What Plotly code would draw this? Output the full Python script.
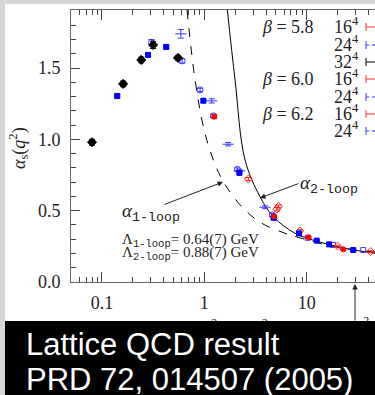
import plotly.graph_objects as go

# ---------------- data ----------------
blk_x = [0.080, 0.161, 0.242, 0.316, 0.553]
blk_y = [0.98, 1.389, 1.557, 1.662, 1.571]
blk_e = [0.02, 0.02, 0.02, 0.025, 0.015]

bsq_x = [0.141, 0.282, 0.424, 0.978, 2.2, 4.75, 8.4, 12.5, 16.5, 28.4]
bsq_y = [1.304, 1.592, 1.648, 1.271, 0.765, 0.45, 0.341, 0.29, 0.264, 0.224]
bsq_e = [0.012, 0.012, 0.01, 0.01, 0.01, 0.01, 0.006, 0.005, 0.005, 0.004]

boc_x = [0.305, 0.607, 0.908, 1.22, 2.1, 4.6]
boc_y = [1.68, 1.55, 1.347, 1.165, 0.79, 0.47]
boc_e = [0.02, 0.015, 0.012, 0.01, 0.01, 0.01]

bln_x = [0.59, 1.18, 1.71, 2.2, 3.91]
bln_y = [1.74, 1.27, 0.966, 0.78, 0.524]
bln_e = [0.03, 0.015, 0.012, 0.01, 0.01]

rfc_x = [1.25, 4.8, 10.4, 22.7]
rfc_y = [1.16, 0.46, 0.313, 0.229]
rfc_e = [0.015, 0.01, 0.006, 0.005]

roc_x = [2.69, 5.09, 5.3, 8.57, 20.0, 42.0]
roc_y = [0.722, 0.51, 0.53, 0.358, 0.252, 0.213]
roc_e = [0.01, 0.012, 0.01, 0.008, 0.006, 0.006]

bos_x = [10.2, 18.0, 35.6]
bos_y = [0.31, 0.26, 0.224]

one_x = [0.678, 0.811, 1.0, 1.224, 1.532, 2.317, 3.63, 6.13, 8.26, 15.0, 25.0, 46.3]
one_y = [1.907, 1.417, 1.06, 0.856, 0.703, 0.528, 0.412, 0.342, 0.313, 0.262, 0.232, 0.21]

two_x = [1.676, 1.993, 2.495, 3.494, 4.71, 7.67, 12.95, 23.6, 46.3]
two_y = [1.907, 1.417, 0.856, 0.598, 0.458, 0.342, 0.283, 0.236, 0.201]

x_ticks = [0.1, 1, 10]
x_ticktext = ["0.1", "1", "10"]
y_ticks = [0.0, 0.5, 1.0, 1.5]

legend_rows = [("<i>β</i> = 5.8", "16<sup>4</sup>", "red"),
               ("", "24<sup>4</sup>", "blue"),
               ("", "32<sup>4</sup>", "black"),
               ("<i>β</i> = 6.0", "16<sup>4</sup>", "red"),
               ("", "24<sup>4</sup>", "blue"),
               ("<i>β</i> = 6.2", "16<sup>4</sup>", "red"),
               ("", "24<sup>4</sup>", "blue")]

# ---------------- layout geometry ----------------
W, H = 375, 395
L, R, T, B = 71, 375, 10, 282
PW, PH = R - L, B - T


def P(px, py):
    return (px - L) / PW, (B - py) / PH


SERIF = "Liberation Serif"
MONO = "Liberation Mono"
TXT = "#222"

fig = go.Figure()

# curves
fig.add_trace(go.Scatter(x=one_x, y=one_y, mode="lines",
                         line=dict(color="black", width=1, dash="dash", shape="spline"),
                         hoverinfo="skip"))
fig.add_trace(go.Scatter(x=two_x, y=two_y, mode="lines",
                         line=dict(color="black", width=1, shape="spline"),
                         hoverinfo="skip"))


def pts(x, y, e, sym, color, size, ecolor=None):
    fig.add_trace(go.Scatter(
        x=x, y=y, mode="markers",
        marker=dict(symbol=sym, color=color, size=size,
                    line=dict(color=color, width=1)),
        error_y=dict(type="data", array=e, visible=e is not None,
                     color=ecolor or color, thickness=1, width=3)))


pts(bln_x, bln_y, bln_e, "line-ew", "#3a3aff", 8)
pts(boc_x, boc_y, boc_e, "circle-open", "#3a3aff", 6)
pts(bos_x, bos_y, None, "square-open", "#3a3aff", 5)
pts(roc_x, roc_y, roc_e, "diamond-open", "#ff2020", 6)
pts(bsq_x, bsq_y, bsq_e, "square", "#0000ff", 5)
pts(rfc_x, rfc_y, rfc_e, "circle", "#ff0000", 5)
pts(blk_x, blk_y, blk_e, "diamond", "black", 7)

axis_common = dict(showline=True, linecolor="#666", linewidth=1,
                   ticks="inside", tickcolor="#444", tickwidth=1,
                   showgrid=False, zeroline=False, automargin=False,
                   tickfont=dict(family=SERIF, size=18, color=TXT))

fig.update_xaxes(type="log", range=[-1.302, 1.666], mirror="ticks",
                 tickvals=x_ticks, ticktext=x_ticktext, ticklen=10,
                 minor=dict(ticks="inside", ticklen=5, tickcolor="#444",
                            dtick="D1", showgrid=False),
                 ticklabelstandoff=4, **axis_common)
fig.update_yaxes(range=[0, 1.907], tickvals=y_ticks, tickformat=".1f",
                 ticklen=9, mirror=False,
                 minor=dict(ticks="inside", ticklen=5, tickcolor="#444",
                            dtick=0.1, showgrid=False),
                 ticklabelstandoff=6, **axis_common)

ann = []
shapes = []


def text(px, py, t, size=18, xa="center", ya="middle", family=SERIF, color=TXT, **kw):
    xx, yy = P(px, py)
    ann.append(dict(xref="paper", yref="paper", x=xx, y=yy, xanchor=xa, yanchor=ya,
                    showarrow=False, text=t,
                    font=dict(family=family, size=size, color=color), **kw))


# gray strips of the slide background
shapes.append(dict(type="rect", xref="paper", yref="paper",
                   x0=P(0, 0)[0], x1=P(5, 0)[0], y0=P(0, 395)[1], y1=P(0, 0)[1],
                   fillcolor="#d6d6d6", line=dict(width=0), layer="above"))
shapes.append(dict(type="rect", xref="paper", yref="paper",
                   x0=P(0, 0)[0], x1=P(375, 0)[0], y0=P(0, 4)[1], y1=P(0, 0)[1],
                   fillcolor="#d6d6d6", line=dict(width=0), layer="above"))

# y axis title
text(18, 148, "<i>α</i><sub>s</sub>(<i>q</i><sup>2</sup>)", textangle=-90)

# legend text + symbols
rows_y = [27, 45, 62, 79, 97, 114, 131]
for (lab, lat, col), ry in zip(legend_rows, rows_y):
    if lab:
        text(288, ry, lab)
    text(332, ry - 2, lat, xa="left")
    c = {"red": "#ff3030", "blue": "#3a3aff", "black": "black"}[col]
    a, b1 = P(366, ry - 4)
    _, b2 = P(366, ry + 4)
    shapes.append(dict(type="line", xref="paper", yref="paper", x0=a, x1=a,
                       y0=b1, y1=b2, line=dict(color=c, width=1)))
    e1, _ = P(375, ry)
    _, yy = P(366, ry)
    shapes.append(dict(type="line", xref="paper", yref="paper", x0=a, x1=e1,
                       y0=yy, y1=yy,
                       line=dict(color=c, width=1, dash="dot" if col == "blue" else "solid")))


def arrow(tip, tail):
    tx, ty = P(*tip)
    ann.append(dict(xref="paper", yref="paper", x=tx, y=ty, text="",
                    showarrow=True, axref="pixel", ayref="pixel",
                    ax=tail[0] - tip[0], ay=tail[1] - tip[1],
                    arrowhead=2, arrowsize=1.1, arrowwidth=1, arrowcolor=TXT))


arrow((223, 182), (163, 205))
arrow((260, 198), (300, 183))
arrow((355, 284), (355, 322))

text(120, 212, f"<i>α</i><sub><span style='font-family:{MONO}'>1-loop</span></sub>",
     size=19, xa="left")
text(298, 185, f"<i>α</i><sub><span style='font-family:{MONO}'>2-loop</span></sub>",
     size=19, xa="left")
text(120, 240, f"Λ<sub><span style='font-family:{MONO}'>1-loop</span></sub>= 0.64(7) GeV",
     size=15, xa="left")
text(120, 253, f"Λ<sub><span style='font-family:{MONO}'>2-loop</span></sub>= 0.88(7) GeV",
     size=15, xa="left")

# x axis tick labels area & titles (mostly hidden behind the caption box)
text(238, 314, "<i>q</i><sup>2</sup> [GeV<sup>2</sup>]", ya="top")
text(361, 312, "<i>q</i><sup>2</sup>", ya="top")

# caption box
text(190, 358, ".", size=10, color="black", width=370, height=74,
     bgcolor="black", borderpad=0, borderwidth=0)
text(24, 344, "Lattice QCD result", size=31, xa="left", family="Liberation Sans", color="white")
text(24, 379, "PRD 72, 014507 (2005)", size=31, xa="left", family="Liberation Sans", color="white")

fig.update_layout(width=W, height=H, showlegend=False,
                  margin=dict(l=L, r=W - R, t=T, b=H - B, pad=0),
                  paper_bgcolor="white", plot_bgcolor="white",
                  annotations=ann, shapes=shapes)

fig.write_html("out.html")
